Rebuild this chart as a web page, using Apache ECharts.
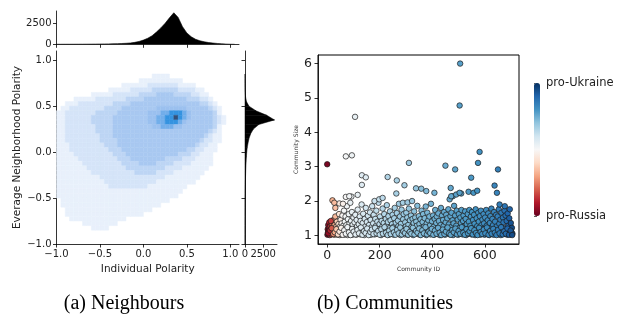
<!DOCTYPE html>
<html>
<head>
<meta charset="utf-8">
<script src="https://cdn.jsdelivr.net/npm/echarts@6/dist/echarts.min.js"></script>
<style>
  html, body { margin: 0; padding: 0; background: #fff; }
  #chart { width: 629px; height: 316px; }
</style>
</head>
<body>
<div id="chart"></div>
<script>
const densityRows = [
  [0.80, [[1, 0.10, 0.30]]],
  [0.75, [[1, -0.05, 0.45]]],
  [0.70, [[1, -0.25, 0.60], [2, 0.05, 0.40]]],
  [0.65, [[1, -0.40, 0.70], [2, -0.15, 0.60], [3, 0.10, 0.40]]],
  [0.60, [[1, -0.60, 0.75], [2, -0.35, 0.65], [3, -0.05, 0.55], [4, 0.15, 0.35]]],
  [0.55, [[1, -0.80, 0.80], [2, -0.55, 0.75], [3, -0.20, 0.65], [4, 0.00, 0.50]]],
  [0.50, [[1, -0.90, 0.85], [2, -0.75, 0.80], [3, -0.35, 0.75], [4, -0.15, 0.65]]],
  [0.45, [[1, -0.95, 0.90], [2, -0.85, 0.85], [3, -0.45, 0.80], [4, -0.25, 0.75], [5, 0.15, 0.50]]],
  [0.40, [[1, -1.00, 0.90], [2, -0.90, 0.85], [3, -0.55, 0.85], [4, -0.30, 0.80], [5, 0.05, 0.55], [6, 0.20, 0.50], [7, 0.30, 0.45]]],
  [0.35, [[1, -1.00, 0.95], [2, -0.90, 0.90], [3, -0.60, 0.85], [4, -0.35, 0.80], [5, 0.05, 0.55], [6, 0.15, 0.50], [7, 0.25, 0.45], [8, 0.35, 0.40]]],
  [0.30, [[1, -1.00, 0.95], [2, -0.90, 0.90], [3, -0.60, 0.85], [4, -0.35, 0.80], [5, 0.05, 0.50], [6, 0.15, 0.45], [7, 0.25, 0.40]]],
  [0.25, [[1, -1.00, 0.90], [2, -0.90, 0.85], [3, -0.55, 0.85], [4, -0.35, 0.80], [5, 0.10, 0.45], [6, 0.20, 0.35]]],
  [0.20, [[1, -1.00, 0.90], [2, -0.90, 0.85], [3, -0.55, 0.80], [4, -0.35, 0.75]]],
  [0.15, [[1, -1.00, 0.90], [2, -0.90, 0.80], [3, -0.50, 0.75], [4, -0.35, 0.70]]],
  [0.10, [[1, -1.00, 0.90], [2, -0.90, 0.80], [3, -0.50, 0.70], [4, -0.30, 0.65]]],
  [0.05, [[1, -1.00, 0.85], [2, -0.85, 0.75], [3, -0.45, 0.65], [4, -0.30, 0.60]]],
  [0.00, [[1, -1.00, 0.85], [2, -0.85, 0.70], [3, -0.40, 0.60], [4, -0.25, 0.50]]],
  [-0.05, [[1, -1.00, 0.80], [2, -0.80, 0.65], [3, -0.35, 0.55], [4, -0.20, 0.40]]],
  [-0.10, [[1, -1.00, 0.80], [2, -0.75, 0.60], [3, -0.30, 0.45], [4, -0.15, 0.25]]],
  [-0.15, [[1, -1.00, 0.80], [2, -0.70, 0.55], [3, -0.25, 0.35], [4, -0.05, 0.15]]],
  [-0.20, [[1, -1.00, 0.75], [2, -0.65, 0.45], [3, -0.20, 0.25]]],
  [-0.25, [[1, -1.00, 0.70], [2, -0.60, 0.35], [3, -0.10, 0.15]]],
  [-0.30, [[1, -1.00, 0.65], [2, -0.50, 0.25]]],
  [-0.35, [[1, -1.00, 0.60], [2, -0.45, 0.15]]],
  [-0.40, [[1, -1.00, 0.50], [2, -0.40, 0.05]]],
  [-0.45, [[1, -1.00, 0.45]]],
  [-0.50, [[1, -1.00, 0.40]]],
  [-0.55, [[1, -0.95, 0.30]]],
  [-0.60, [[1, -0.95, 0.20]]],
  [-0.65, [[1, -0.90, 0.10]]],
  [-0.70, [[1, -0.90, 0.00]]],
  [-0.75, [[1, -0.85, -0.20]]],
  [-0.80, [[1, -0.70, -0.30]]],
  [-0.85, [[1, -0.60, -0.40]]],
];

// top marginal: individual polarity histogram
const topX = [-1.0, -0.95, -0.9, -0.85, -0.8, -0.75, -0.7, -0.65, -0.6, -0.55, -0.5, -0.45, -0.4, -0.35, -0.3, -0.25, -0.2, -0.15, -0.1, -0.05,
  0.0, 0.05, 0.1, 0.15, 0.2, 0.25, 0.3, 0.35, 0.4, 0.45, 0.5, 0.55, 0.6, 0.65, 0.7, 0.75, 0.8, 0.85, 0.9, 0.95, 1.0, 1.05];
const topCounts = [5, 5, 8, 8, 10, 12, 15, 18, 22, 28, 35, 42, 50, 62, 78, 95, 120, 160, 230, 340,
  500, 720, 1020, 1450, 1950, 2500, 3150, 3750, 3200, 2100, 1350, 900, 600, 420, 300, 210, 150, 100, 60, 30, 10, 0];

// right marginal: neighbourhood polarity histogram
const rightY = [-1.0, -0.9, -0.8, -0.7, -0.6, -0.5, -0.45, -0.4, -0.35, -0.3, -0.25, -0.2, -0.15, -0.1, -0.05,
  0.0, 0.05, 0.1, 0.15, 0.2, 0.25, 0.3, 0.35, 0.4, 0.45, 0.5, 0.55, 0.6, 0.65, 0.7, 0.75, 0.8, 0.85];
const rightCounts = [3, 5, 8, 12, 18, 25, 32, 40, 50, 62, 78, 100, 125, 155, 195,
  240, 310, 420, 560, 780, 1150, 1900, 4050, 3000, 1500, 550, 200, 80, 35, 15, 6, 2, 0];

// (b) communities: [id, size, polarity(-1 pro-Russia .. 1 pro-Ukraine)]
const communityOutliers = [
  [0, 3.07, -0.95], [71, 3.30, 0.02], [94, 3.33, 0.05], [106, 4.45, 0.08],
  [132, 2.75, 0.12], [147, 2.69, 0.12], [132, 2.47, 0.12],
  [230, 2.70, 0.30], [265, 2.60, 0.32], [294, 2.46, 0.35], [311, 3.11, 0.36], [338, 2.37, 0.38], [263, 2.22, 0.33],
  [71, 2.12, 0.00], [92, 2.13, 0.05], [116, 2.18, 0.08], [84, 2.14, 0.03], [46, 1.93, -0.10], [60, 1.92, -0.05],
  [20, 2.02, -0.35], [27, 1.95, -0.32], [31, 1.80, -0.30], [14, 1.42, -0.70],
  [180, 2.00, 0.22], [198, 2.05, 0.24], [211, 2.09, 0.26], [288, 1.95, 0.34], [306, 1.96, 0.36], [323, 2.00, 0.37],
  [506, 6.00, 0.55], [504, 4.78, 0.55], [580, 3.43, 0.61],
  [450, 3.03, 0.50], [487, 2.92, 0.53], [574, 3.11, 0.60], [650, 2.92, 0.68],
  [548, 2.68, 0.58], [637, 2.45, 0.66], [646, 2.24, 0.67],
  [538, 2.27, 0.57], [557, 2.24, 0.59], [571, 2.30, 0.60],
  [358, 2.36, 0.42], [377, 2.29, 0.44], [408, 2.24, 0.47], [470, 2.38, 0.52],
  [466, 2.05, 0.52], [478, 2.14, 0.53], [510, 2.22, 0.55],
  [472, 2.14, 0.52], [491, 2.19, 0.54], [504, 2.24, 0.55],
  [656, 1.90, 0.70], [676, 1.85, 0.74], [695, 1.76, 0.80],
];

const communityBand = [
  [1,1.02,-0.92],[2,1.18,-0.9],[3,1.08,-0.9],[4,1.30,-0.88],[5,1.12,-0.86],[6,1.04,-0.85],[7,1.22,-0.84],[8,1.38,-0.8],[9,1.15,-0.8],[10,1.01,-0.78],
  [12,1.27,-0.74],[13,1.09,-0.72],[15,1.19,-0.68],[16,1.03,-0.66],[18,1.33,-0.6],[19,1.12,-0.58],[21,1.06,-0.52],[22,1.24,-0.5],[24,1.45,-0.45],[25,1.10,-0.44],
  [27,1.02,-0.4],[28,1.30,-0.38],[30,1.16,-0.35],[31,1.55,-0.33],[33,1.05,-0.3],[34,1.25,-0.28],[36,1.12,-0.25],[37,1.40,-0.24],[39,1.02,-0.2],[40,1.21,-0.19],
  [42,1.08,-0.16],[43,1.33,-0.15],[45,1.62,-0.13],[46,1.15,-0.12],[48,1.01,-0.1],[49,1.26,-0.09],[51,1.45,-0.07],[52,1.10,-0.06],[54,1.03,-0.05],[55,1.35,-0.04],
  [57,1.20,-0.03],[58,1.58,-0.02],[60,1.06,-0.01],[61,1.28,0],[63,1.13,0.0],[64,1.72,0.01],[66,1.02,0.01],[67,1.40,0.02],[69,1.18,0.02],[70,1.55,0.02],
  [72,1.08,0.03],[73,1.30,0.03],[75,1.85,0.04],[76,1.12,0.04],[78,1.01,0.04],[79,1.47,0.05],[81,1.22,0.05],[82,1.62,0.05],[84,1.04,0.06],[85,1.35,0.06],
  [87,1.15,0.06],[88,1.95,0.07],[90,1.07,0.07],[91,1.42,0.07],[93,1.25,0.08],[94,1.68,0.08],[96,1.02,0.08],[97,1.31,0.09],[99,1.12,0.09],[100,1.52,0.09],
  [102,1.05,0.1],[104,1.38,0.1],[105,1.20,0.1],[107,1.60,0.11],[109,1.10,0.11],[111,1.02,0.11],[112,1.45,0.12],[114,1.27,0.12],[116,1.75,0.12],[118,1.08,0.13],
  [120,1.33,0.13],[122,1.15,0.13],[124,1.55,0.14],[126,1.03,0.14],[127,1.42,0.14],[129,1.22,0.15],[131,1.90,0.15],[133,1.09,0.15],[135,1.36,0.16],[137,1.63,0.16],
  [139,1.14,0.16],[141,1.01,0.17],[143,1.48,0.17],[145,1.26,0.17],[147,1.80,0.18],[149,1.06,0.18],[151,1.39,0.18],[153,1.18,0.19],[155,1.57,0.19],[157,1.04,0.19],
  [159,1.30,0.2],[161,1.12,0.2],[163,1.67,0.2],[165,1.45,0.21],[167,1.02,0.21],[169,1.24,0.21],[171,1.85,0.22],[173,1.10,0.22],[175,1.35,0.22],[177,1.60,0.23],
  [179,1.16,0.23],[181,1.03,0.23],[183,1.48,0.24],[185,1.27,0.24],[187,1.72,0.24],[189,1.08,0.25],[191,1.40,0.25],[193,1.19,0.25],[195,1.95,0.26],[197,1.05,0.26],
  [199,1.33,0.26],[201,1.55,0.27],[203,1.13,0.27],[205,1.01,0.27],[207,1.42,0.28],[209,1.25,0.28],[211,1.78,0.28],[213,1.09,0.29],[215,1.36,0.29],[217,1.62,0.29],
  [219,1.17,0.3],[221,1.04,0.3],[223,1.48,0.3],[225,1.28,0.3],[227,1.88,0.31],[229,1.11,0.31],[231,1.39,0.31],[233,1.56,0.31],[235,1.02,0.32],[237,1.21,0.32],
  [239,1.70,0.32],[241,1.44,0.32],[243,1.14,0.33],[245,1.06,0.33],[247,1.33,0.33],[249,1.60,0.33],[251,1.24,0.34],[253,1.02,0.34],[255,1.50,0.34],[257,1.80,0.34],
  [259,1.10,0.35],[261,1.37,0.35],[263,1.18,0.35],[265,1.65,0.35],[267,1.05,0.36],[269,1.43,0.36],[271,1.27,0.36],[273,1.92,0.36],[275,1.12,0.37],[277,1.55,0.37],
  [279,1.01,0.37],[281,1.34,0.37],[283,1.75,0.37],[285,1.20,0.37],[287,1.08,0.37],[289,1.47,0.37],[291,1.62,0.38],[293,1.15,0.38],[295,1.03,0.38],[297,1.38,0.38],
  [299,1.26,0.38],[301,1.66,0.38],[303,1.10,0.38],[305,1.52,0.39],[307,1.02,0.39],[309,1.31,0.39],[311,1.78,0.39],[313,1.18,0.39],[315,1.44,0.4],[317,1.06,0.4],
  [319,1.58,0.4],[321,1.25,0.4],[323,1.12,0.41],[325,1.48,0.41],[327,1.01,0.41],[329,1.36,0.41],[331,1.70,0.41],[333,1.20,0.42],[335,1.52,0.42],[337,1.08,0.42],
  [339,1.40,0.42],[341,1.28,0.42],[343,1.86,0.43],[345,1.04,0.43],[347,1.15,0.43],[349,1.56,0.43],[351,1.33,0.43],[353,1.02,0.44],[355,1.47,0.44],[357,1.22,0.44],
  [359,1.72,0.44],[361,1.10,0.44],[363,1.39,0.45],[365,1.62,0.45],[367,1.05,0.45],[369,1.26,0.45],[371,1.50,0.45],[373,1.14,0.46],[375,1.84,0.46],[377,1.01,0.46],
  [379,1.35,0.46],[381,1.66,0.46],[383,1.19,0.46],[385,1.44,0.47],[387,1.07,0.47],[389,1.55,0.47],[391,1.29,0.47],[393,1.03,0.47],[395,1.92,0.47],[397,1.16,0.48],
  [399,1.41,0.48],[401,1.08,0.48],[403,1.58,0.48],[405,1.25,0.48],[407,1.02,0.48],[409,1.48,0.49],[411,1.74,0.49],[413,1.13,0.49],[415,1.36,0.49],[417,1.55,0.49],
  [419,1.04,0.49],[421,1.22,0.5],[423,1.64,0.5],[425,1.42,0.5],[427,1.10,0.5],[429,1.01,0.5],[431,1.30,0.5],[433,1.80,0.51],[435,1.17,0.51],[437,1.58,0.51],
  [439,1.06,0.51],[441,1.45,0.51],[443,1.27,0.51],[445,1.68,0.52],[447,1.12,0.52],[449,1.02,0.52],[451,1.38,0.52],[453,1.60,0.52],[455,1.20,0.52],[457,1.50,0.53],
  [459,1.07,0.53],[461,1.76,0.53],[463,1.32,0.53],[465,1.15,0.53],[467,1.03,0.53],[469,1.56,0.53],[471,1.24,0.54],[473,1.66,0.54],[475,1.09,0.54],[477,1.44,0.54],
  [479,1.01,0.54],[481,1.35,0.54],[483,1.86,0.54],[485,1.18,0.55],[487,1.58,0.55],[489,1.05,0.55],[491,1.28,0.55],[493,1.72,0.55],[495,1.12,0.55],[497,1.46,0.55],
  [499,1.02,0.55],[501,1.62,0.56],[503,1.22,0.56],[505,1.08,0.56],[507,1.52,0.56],[509,1.36,0.56],[511,1.74,0.56],[513,1.14,0.57],[515,1.03,0.57],[517,1.42,0.57],
  [519,1.58,0.57],[521,1.26,0.57],[523,1.10,0.57],[525,1.70,0.58],[527,1.48,0.58],[529,1.01,0.58],[531,1.33,0.58],[533,1.19,0.58],[535,1.62,0.58],[537,1.06,0.58],
  [539,1.40,0.59],[541,1.74,0.59],[543,1.15,0.59],[545,1.28,0.59],[547,1.55,0.59],[549,1.03,0.59],[551,1.68,0.6],[553,1.21,0.6],[555,1.45,0.6],[557,1.09,0.6],
  [559,1.60,0.6],[561,1.34,0.6],[563,1.01,0.6],[565,1.76,0.61],[567,1.17,0.61],[569,1.50,0.61],[571,1.27,0.61],[573,1.05,0.61],[575,1.66,0.61],[577,1.40,0.61],
  [579,1.12,0.62],[581,1.56,0.62],[583,1.02,0.62],[585,1.72,0.62],[587,1.30,0.62],[589,1.19,0.62],[591,1.46,0.62],[593,1.07,0.63],[595,1.62,0.63],[597,1.35,0.63],
  [599,1.02,0.63],[601,1.52,0.63],[603,1.16,0.63],[605,1.74,0.64],[607,1.28,0.64],[609,1.04,0.64],[611,1.44,0.64],[613,1.64,0.64],[615,1.12,0.65],[617,1.01,0.65],
  [619,1.36,0.65],[621,1.56,0.65],[623,1.22,0.66],[625,1.78,0.66],[627,1.08,0.66],[629,1.48,0.66],[631,1.30,0.67],[633,1.02,0.67],[635,1.68,0.67],[637,1.18,0.67],
  [639,1.40,0.68],[641,1.06,0.68],[643,1.60,0.68],[645,1.26,0.69],[647,1.12,0.69],[649,1.55,0.69],[651,1.03,0.7],[653,1.76,0.7],[655,1.34,0.7],[657,1.15,0.71],
  [659,1.46,0.71],[661,1.01,0.72],[663,1.66,0.72],[665,1.24,0.73],[667,1.09,0.73],[669,1.52,0.74],[671,1.38,0.74],[673,1.04,0.75],[675,1.72,0.75],[677,1.20,0.76],
  [679,1.58,0.77],[681,1.12,0.77],[683,1.42,0.78],[685,1.02,0.79],[687,1.64,0.8],[689,1.28,0.81],[691,1.08,0.82],[693,1.50,0.83],[695,1.18,0.84],[697,1.03,0.86],
  [699,1.36,0.87],[701,1.10,0.88],[703,1.22,0.9],[705,1.05,0.92],
];

const communityLow = [
  [4,1.06,-0.88],[11,1.14,-0.76],[17,1.21,-0.62],[23,1.04,-0.48],[29,1.09,-0.37],[35,1.18,-0.27],[41,1.03,-0.17],[47,1.11,-0.11],[53,1.22,-0.06],[59,1.02,-0.02],
  [65,1.15,0.01],[71,1.05,0.03],[77,1.24,0.04],[83,1.09,0.06],[89,1.01,0.07],[95,1.19,0.08],[101,1.11,0.1],[108,1.03,0.11],[115,1.16,0.12],[121,1.06,0.13],
  [128,1.23,0.15],[134,1.02,0.16],[140,1.12,0.17],[146,1.07,0.18],[152,1.20,0.19],[158,1.01,0.2],[164,1.10,0.21],[170,1.17,0.22],[176,1.04,0.23],[182,1.22,0.24],
  [188,1.06,0.25],[194,1.13,0.26],[200,1.02,0.27],[206,1.18,0.28],[212,1.05,0.29],[218,1.24,0.3],[224,1.08,0.31],[230,1.01,0.31],[236,1.14,0.32],[242,1.04,0.33],
  [248,1.21,0.34],[254,1.09,0.35],[260,1.02,0.35],[266,1.16,0.36],[272,1.06,0.36],[278,1.23,0.37],[284,1.03,0.37],[290,1.12,0.37],[296,1.07,0.38],[302,1.19,0.38],
  [308,1.02,0.39],[314,1.10,0.4],[320,1.05,0.4],[326,1.22,0.41],[332,1.03,0.42],[338,1.13,0.42],[344,1.08,0.43],[350,1.20,0.43],[356,1.01,0.44],[362,1.15,0.45],
  [368,1.06,0.45],[374,1.24,0.46],[380,1.03,0.46],[386,1.11,0.47],[392,1.07,0.47],[398,1.19,0.48],[404,1.02,0.48],[410,1.14,0.49],[416,1.05,0.49],[422,1.22,0.5],
  [428,1.08,0.5],[434,1.01,0.51],[440,1.17,0.51],[446,1.04,0.52],[452,1.11,0.52],[458,1.23,0.53],[464,1.06,0.53],[470,1.02,0.53],[476,1.16,0.54],[482,1.09,0.54],
  [488,1.20,0.55],[494,1.03,0.55],[500,1.13,0.56],[506,1.05,0.56],[512,1.24,0.57],[518,1.08,0.57],[524,1.02,0.57],[530,1.18,0.58],[536,1.06,0.58],[542,1.12,0.59],
  [548,1.21,0.59],[554,1.03,0.6],[560,1.15,0.6],[566,1.07,0.61],[572,1.01,0.61],[578,1.22,0.61],[584,1.10,0.62],[590,1.04,0.62],[596,1.17,0.63],[602,1.06,0.63],
  [608,1.23,0.64],[614,1.02,0.65],[620,1.13,0.65],[626,1.05,0.66],[632,1.19,0.67],[638,1.08,0.68],[644,1.01,0.69],[650,1.16,0.7],[656,1.06,0.71],[662,1.24,0.72],
  [668,1.03,0.74],[674,1.12,0.75],[680,1.05,0.77],[686,1.20,0.8],[692,1.02,0.83],[698,1.14,0.86],[704,1.01,0.9],
];

const polarityTicks = [-1, -0.5, 0, 0.5, 1];
const histTicks = [0, 2500];
const idTicks = [0, 200, 400, 600];
const sizeTicks = [1, 2, 3, 4, 5, 6];

// colours for density levels 1..8 (sparse speckle -> dense core)
const densityColors = [null, '#e8f0fb', '#d5e4f8', '#bdd5f4', '#a8c8f1', '#9bc0ef', '#72aeea', '#3593e0', '#34507a'];
const rdbu = ['#67001f', '#b2182b', '#d6604d', '#f4a582', '#fddbc7', '#f7f7f7', '#d1e5f0', '#92c5de', '#4393c3', '#2166ac', '#053061'];

const FONT = 'DejaVu Sans';
const fmt = (v) => v.toFixed(1).replace('-', '\u2212');

// expand the runs into 0.05 cells
const cells = [];
densityRows.forEach(([y, runs]) => {
  const lv = {};
  runs.forEach(([level, a, b]) => {
    for (let k = Math.round(a * 20); k < Math.round(b * 20); k++) lv[k] = level;
  });
  Object.keys(lv).forEach((k) => cells.push([k / 20, y, lv[k]]));
});

function axisBase(extra) {
  return Object.assign({
    type: 'value',
    axisLine: { show: true, onZero: false, lineStyle: { color: '#000', width: 0.8 } },
    axisTick: { show: true, length: 3.5, lineStyle: { color: '#000', width: 0.8 } },
    axisLabel: { show: false, fontFamily: FONT, fontSize: 10, color: '#222' },
    splitLine: { show: false },
  }, extra);
}
function ticks(values) {
  return { show: true, length: 3.5, customValues: values, lineStyle: { color: '#000', width: 0.8 } };
}
function labels(values, size, formatter) {
  return { show: true, customValues: values, formatter: formatter || ((v) => String(v)),
    fontFamily: FONT, fontSize: size, color: '#222', margin: 5 };
}

const chart = echarts.init(document.getElementById('chart'), null, { renderer: 'canvas' });

const captionStyle = { fontFamily: 'Liberation Serif', fontSize: 20, fontWeight: 'normal', color: '#000' };

const option = {
  animation: false,
  textStyle: { fontFamily: FONT },
  title: [
    { text: '(a) Neighbours', left: 119, top: 289, textAlign: 'center', textStyle: captionStyle },
    { text: '(b) Communities', left: 380, top: 289, textAlign: 'center', textStyle: captionStyle },
  ],
  grid: [
    { left: 56.5, top: 51, width: 182.5, height: 193 },   // main
    { left: 56.5, top: 11, width: 182.5, height: 33.3 },  // top hist
    { left: 245, top: 51, width: 32, height: 193 },       // right hist
    { left: 318, top: 55, width: 201, height: 189, show: true, borderColor: '#000', borderWidth: 1 }, // communities
    { left: 534, top: 83, width: 6, height: 133 },        // colorbar axis
  ],
  xAxis: [
    axisBase({ gridIndex: 0, min: -1, max: 1.1, name: 'Individual Polarity', nameLocation: 'middle', nameGap: 16,
      nameTextStyle: { fontFamily: FONT, fontSize: 10.5, color: '#222' },
      axisTick: ticks(polarityTicks), axisLabel: labels(polarityTicks, 10, fmt) }),
    axisBase({ gridIndex: 1, min: -1, max: 1.1, axisTick: ticks(polarityTicks) }),
    axisBase({ gridIndex: 2, min: 0, max: 4400, axisTick: ticks(histTicks), axisLabel: labels(histTicks, 10) }),
    axisBase({ gridIndex: 3, min: -35, max: 730, name: 'Community ID', nameLocation: 'middle', nameGap: 21,
      nameTextStyle: { fontFamily: FONT, fontSize: 6, color: '#333' },
      axisTick: ticks(idTicks), axisLabel: labels(idTicks, 12.5) }),
    { type: 'value', gridIndex: 4, min: 0, max: 1, show: false },
  ],
  yAxis: [
    axisBase({ gridIndex: 0, min: -1, max: 1.1, name: 'Everage Neighborhood Polarity', nameLocation: 'middle', nameGap: 34,
      nameTextStyle: { fontFamily: FONT, fontSize: 10.5, color: '#222' },
      axisTick: ticks(polarityTicks), axisLabel: labels(polarityTicks, 10, fmt) }),
    axisBase({ gridIndex: 1, min: 0, max: 3960, axisTick: ticks(histTicks), axisLabel: labels(histTicks, 10) }),
    axisBase({ gridIndex: 2, min: -1, max: 1.1, axisTick: ticks(polarityTicks) }),
    axisBase({ gridIndex: 3, min: 0.75, max: 6.25, name: 'Community Size', nameLocation: 'middle', nameGap: 19,
      nameTextStyle: { fontFamily: FONT, fontSize: 6, color: '#333' },
      axisTick: ticks(sizeTicks), axisLabel: Object.assign(labels(sizeTicks, 12.5), { margin: 6 }) }),
    { type: 'value', gridIndex: 4, min: -1, max: 1, position: 'right',
      axisLine: { show: false },
      axisTick: { show: true, length: 3, customValues: [-1, 0, 1], lineStyle: { color: '#333', width: 0.8 } },
      axisLabel: { show: true, customValues: [-1, 1], margin: 6, fontFamily: FONT, fontSize: 11.5, color: '#222',
        formatter: (v) => (v > 0 ? 'pro-Ukraine' : 'pro-Russia') },
      splitLine: { show: false } },
  ],
  visualMap: {
    type: 'continuous',
    seriesIndex: 3,
    dimension: 2,
    min: -1,
    max: 1,
    calculable: false,
    left: 534,
    top: 83,
    padding: 0,
    itemWidth: 6,
    itemHeight: 133,
    text: null,
    inRange: { color: rdbu },
  },
  series: [
    {
      type: 'custom',
      xAxisIndex: 0,
      yAxisIndex: 0,
      data: cells,
      renderItem: (params, api) => {
        const x = api.value(0), y = api.value(1);
        const p0 = api.coord([x, y + 0.05]);
        const p1 = api.coord([x + 0.05, y]);
        const c = densityColors[api.value(2)];
        return {
          type: 'rect',
          shape: { x: p0[0], y: p0[1], width: p1[0] - p0[0], height: p1[1] - p0[1] },
          style: { fill: c, stroke: c, lineWidth: 0.5 },
        };
      },
    },
    {
      type: 'line',
      xAxisIndex: 1,
      yAxisIndex: 1,
      data: topX.map((x, i) => [x, topCounts[i]]),
      symbol: 'none',
      lineStyle: { color: '#000', width: 0.6 },
      areaStyle: { color: '#000', opacity: 1 },
    },
    {
      type: 'custom',
      xAxisIndex: 2,
      yAxisIndex: 2,
      data: rightCounts.map((c, i) => [c, rightY[i]]),
      renderItem: (params, api) => {
        const i = params.dataIndex;
        if (i >= rightY.length - 1) return;
        const pts = [
          api.coord([0, rightY[i]]), api.coord([rightCounts[i], rightY[i]]),
          api.coord([rightCounts[i + 1], rightY[i + 1]]), api.coord([0, rightY[i + 1]]),
        ];
        return { type: 'polygon', shape: { points: pts }, style: { fill: '#000', stroke: '#000', lineWidth: 0.5 } };
      },
    },
    {
      type: 'scatter',
      xAxisIndex: 3,
      yAxisIndex: 3,
      data: communityBand.concat(communityLow, communityOutliers),
      symbolSize: 5.5,
      itemStyle: { borderColor: '#1a1a1a', borderWidth: 0.7, opacity: 1 },
    },
  ],
};

chart.setOption(option);
</script>
</body>
</html>
